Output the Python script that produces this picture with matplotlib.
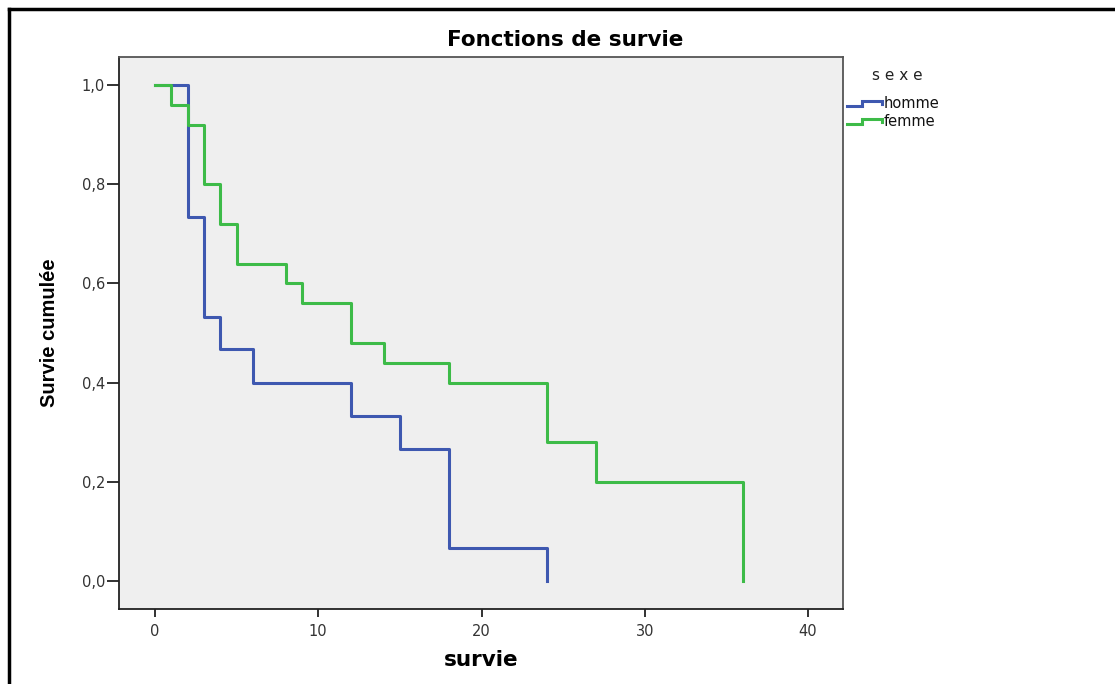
import matplotlib
matplotlib.use("Agg")
import matplotlib.pyplot as plt
from matplotlib.lines import Line2D
from matplotlib.ticker import FuncFormatter

# Kaplan-Meier steps
homme_temps = [0, 2, 3, 4, 6, 12, 15, 18, 24]
homme_survie = [1.0, 0.733, 0.533, 0.467, 0.400, 0.333, 0.267, 0.067, 0.0]
femme_temps = [0, 1, 2, 3, 4, 5, 8, 9, 12, 14, 18, 24, 27, 36]
femme_survie = [1.0, 0.96, 0.92, 0.80, 0.72, 0.64, 0.60, 0.56, 0.48, 0.44, 0.40, 0.28, 0.20, 0.0]
groupes = ["homme", "femme"]
x_ticks = [0, 10, 20, 30, 40]
y_ticks = [0.0, 0.2, 0.4, 0.6, 0.8, 1.0]

BLUE = "#3e58b0"
GREEN = "#3dbb48"
W, H = 1115, 684


def fx(px):
    return px / W


def fy(py):
    return 1 - py / H


fig = plt.figure(figsize=(11.15, 6.84), dpi=100)
ax = fig.add_axes([0.1067, 0.1096, 0.6494, 0.8071])
ax.set_facecolor("#efefef")

ax.step(homme_temps, homme_survie, where="post", color=BLUE, lw=2.2)
ax.step(femme_temps, femme_survie, where="post", color=GREEN, lw=2.2)

ax.set_xlim(-2.2, 42.14)
ax.set_ylim(-0.0565, 1.0565)
ax.set_xticks(x_ticks)
ax.set_yticks(y_ticks)
ax.yaxis.set_major_formatter(FuncFormatter(lambda v, p: f"{v:.1f}".replace(".", ",")))
ax.tick_params(direction="out", width=1.3, color="#222", labelsize=10.5,
               labelcolor="#333", labelfontfamily="DejaVu Sans")
ax.tick_params(axis="y", length=8.5, pad=1.5)
ax.tick_params(axis="x", length=6, pad=5)
for s in ax.spines.values():
    s.set_color("#555")
    s.set_linewidth(1.3)
ax.spines["left"].set_color("#222")
ax.spines["bottom"].set_color("#222")

fig.text(fx(565), fy(40), "Fonctions de survie", fontsize=15.5, fontweight="bold",
         family="DejaVu Sans", ha="center", va="center")
ax.set_xlabel("survie", fontsize=15.5, fontweight="bold", family="DejaVu Sans", labelpad=8)
ax.set_ylabel("Survie cumulée", fontsize=14.5, fontweight="bold",
              family=["Liberation Sans Narrow", "Liberation Sans", "DejaVu Sans"], labelpad=16)

# legend drawn by hand, SPSS style step icons
fig.text(fx(872), fy(76), "s e x e", fontsize=11, family="DejaVu Sans", color="#222",
         va="center", ha="left")
for i, (nom, col) in enumerate(zip(groupes, [BLUE, GREEN])):
    yc = 103 + 18 * i
    xs = [fx(847), fx(862), fx(862), fx(882), fx(882)]
    ys = [fy(yc + 3), fy(yc + 3), fy(yc - 2), fy(yc - 2), fy(yc + 1)]
    fig.add_artist(Line2D(xs, ys, color=col, lw=2.2, transform=fig.transFigure,
                          solid_joinstyle="miter"))
    fig.text(fx(884), fy(yc), nom, fontsize=10.5, family="DejaVu Sans", color="#111",
             va="center", ha="left")

# outer frame (left and top only)
fig.add_artist(Line2D([0.0085, 0.0085], [0.0, 0.987], color="black", lw=2.5,
                      transform=fig.transFigure))
fig.add_artist(Line2D([0.0085, 1.0], [0.987, 0.987], color="black", lw=2.5,
                      transform=fig.transFigure))

fig.savefig("out.png", dpi=100)
